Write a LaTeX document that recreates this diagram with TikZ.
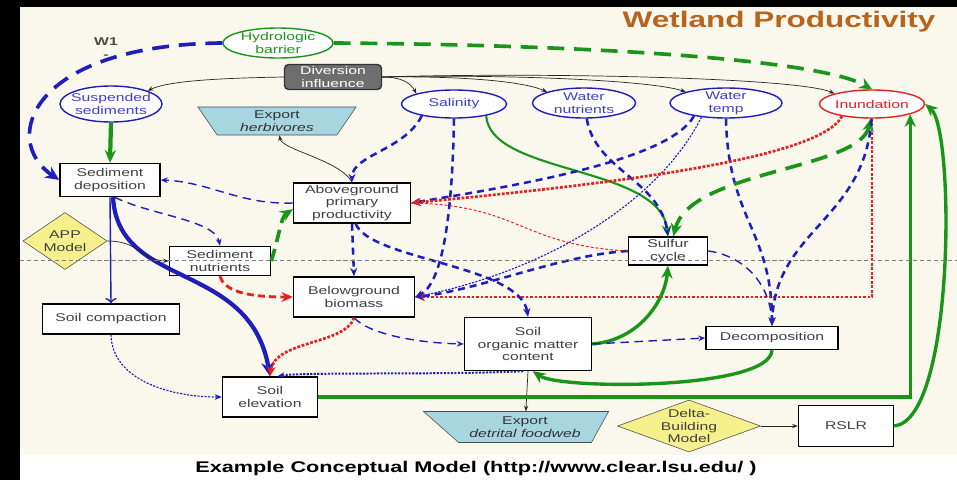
\documentclass[tikz,border=0pt]{standalone}
\usepackage{fontspec}
\setmainfont{Liberation Sans}[FakeStretch=1.4]
\usetikzlibrary{arrows.meta, shapes.geometric}

\definecolor{cream}{RGB}{250,248,236}
\definecolor{dblue}{RGB}{30,30,190}
\definecolor{dgreen}{RGB}{25,150,25}
\definecolor{dred}{RGB}{235,30,30}
\definecolor{trapblue}{RGB}{168,214,224}
\definecolor{ylw}{RGB}{246,240,140}
\definecolor{titlebrown}{RGB}{185,100,30}
\definecolor{divgray}{RGB}{110,110,110}

\begin{document}
\begin{tikzpicture}[x=0.025cm, y=-0.025cm,
    every node/.style={font=\fontsize{8}{9}\selectfont},
    box/.style={draw, line width=1pt, fill=white, text=black!75, align=center, inner sep=1pt},
    oval/.style={ellipse, draw=dblue, line width=1pt, fill=white, text=dblue!85, align=center, inner xsep=-3pt, inner ysep=-1.5pt},
    trap/.style={trapezium, shape border rotate=180, trapezium stretches=true, draw=black!70, fill=trapblue, text=black!80, align=center, inner sep=0pt},
    model/.style={diamond, draw=black!70, fill=ylw, text=black!75, align=center, inner sep=0pt},
    thinline/.style={-{Stealth[length=4pt,width=3pt]}, black!85, line width=0.5pt},
    bdash/.style={-{Stealth[length=6pt,width=5pt]}, dblue, line width=1.8pt, dash pattern=on 5pt off 3.5pt},
    bdashlt/.style={-{Stealth[length=5pt,width=4pt]}, dblue, line width=1pt, dash pattern=on 6pt off 4pt},
    bdashlong/.style={-{Stealth[length=10pt,width=9pt]}, dblue, line width=2.6pt, dash pattern=on 12pt off 7pt},
    bdot/.style={-{Stealth[length=5pt,width=4pt]}, dblue, line width=0.8pt, dash pattern=on 1.5pt off 1pt},
    bthick/.style={-{Stealth[length=10pt,width=9pt]}, dblue, line width=3pt},
    rdot/.style={-{Stealth[length=7pt,width=6pt]}, dred, line width=1.9pt, dash pattern=on 2pt off 1.2pt},
    rdash/.style={-{Stealth[length=8pt,width=7pt]}, dred, line width=2pt, dash pattern=on 5pt off 3pt},
    rthin/.style={dred, line width=0.7pt, dash pattern=on 2pt off 1.5pt},
    gdash/.style={-{Stealth[length=9pt,width=8pt]}, dgreen, line width=2.6pt, dash pattern=on 12pt off 7pt},
    gline/.style={-{Stealth[length=9pt,width=8pt]}, dgreen, line width=2.4pt},
    gmid/.style={-{Stealth[length=8pt,width=7pt]}, dgreen, line width=1.5pt}]

    % Frame and background
    \useasboundingbox (0,0) rectangle (957,480);
    \fill[black] (0,0) rectangle (957,480);
    \fill[white] (20,7) rectangle (957,480);
    \fill[cream] (20,7) rectangle (957,455);

    % Title
    \node[font=\fontsize{16}{18}\selectfont\bfseries, text=titlebrown] (title) at (779,22) {Wetland Productivity};

    % Drivers
    \node[oval, draw=dgreen, text=dgreen, minimum width=2.75cm, minimum height=0.75cm] (hydro) at (278,43) {Hydrologic\\barrier};
    \node[font=\fontsize{8}{9}\selectfont\bfseries, text=black!70, align=center] (w1) at (106,48) {W1\\-};
    \node[draw=black!80, fill=divgray, text=white, rounded corners=3pt, line width=1pt, align=center, minimum width=2.425cm, minimum height=0.625cm, inner sep=1pt] (div) at (333,77) {Diversion\\influence};

    % Water column variables
    \node[oval, minimum width=2.55cm, minimum height=0.9cm] (susp) at (111,104) {Suspended\\sediments};
    \node[oval, minimum width=2.625cm, minimum height=0.7cm] (sal) at (454,104) {Salinity};
    \node[oval, minimum width=2.575cm, minimum height=0.75cm] (wnut) at (584,103) {Water\\nutrients};
    \node[oval, minimum width=2.8cm, minimum height=0.75cm] (wtemp) at (726,103) {Water\\temp};
    \node[oval, draw=dred, text=dred, minimum width=2.625cm, minimum height=0.7cm] (inund) at (872,104) {Inundation};

    % Marsh processes
    \node[trap, minimum width=3.975cm, minimum height=0.7cm] (herb) at (277,121) {Export\\\textit{herbivores}};
    \node[box, minimum width=2.5cm, minimum height=0.825cm] (sdep) at (110,180) {Sediment\\deposition};
    \node[model, aspect=1.47, minimum width=2.1cm, minimum height=1.425cm] (app) at (65,241) {APP\\Model};
    \node[box, minimum width=2.525cm, minimum height=0.725cm] (snut) at (220,261) {Sediment\\nutrients};
    \node[box, minimum width=2.925cm, minimum height=1cm] (agp) at (352,203) {Aboveground\\primary\\productivity};
    \node[box, minimum width=3.025cm, minimum height=1cm] (bgb) at (354,297) {Belowground\\biomass};
    \node[box, minimum width=1.975cm, minimum height=0.7cm] (sulf) at (668,251) {Sulfur\\cycle};
    \node[box, minimum width=3.425cm, minimum height=0.75cm] (scomp) at (111,319) {Soil compaction};
    \node[box, minimum width=3.175cm, minimum height=1.325cm] (som) at (528,344) {Soil\\organic matter\\content};
    \node[box, minimum width=3.3cm, minimum height=0.575cm] (decomp) at (772,338) {Decomposition};
    \node[box, minimum width=2.375cm, minimum height=1cm] (selev) at (270,397) {Soil\\elevation};

    % Export and sea level
    \node[trap, trapezium left angle=55, trapezium right angle=35, minimum width=4.625cm, minimum height=0.775cm] (detr) at (525,427) {Export\\\textit{detrital foodweb}};
    \node[model, aspect=2.75, inner sep=-3pt, minimum width=3.575cm, minimum height=1.3cm] (delta) at (689,426) {Delta-\\Building\\Model};
    \node[box, minimum width=2.375cm, minimum height=1.025cm] (rslr) at (846,426) {RSLR};

    % Hydrologic barrier links
    \draw[bdashlong] (hydro.west) .. controls (30,45) and (0,140) .. (sdep.west);
    \draw[gdash] (hydro.east) .. controls (600,45) and (820,60) .. (inund.north);

    % Diversion influence
    \draw[thinline] (div.west) .. controls (230,78) and (170,80) .. (susp.north east);
    \draw[thinline] (div.east) .. controls (400,77) and (410,82) .. (sal.north west);
    \draw[thinline] (div.east) .. controls (450,76) and (520,80) .. (wnut.north west);
    \draw[thinline] (div.east) .. controls (500,74) and (650,80) .. (wtemp.north west);
    \draw[thinline] (div.east) .. controls (550,72) and (800,78) .. (inund.north west);

    % Sediment pathway
    \draw[gline, line width=3pt] (susp.south) -- (sdep.north);
    \draw[bdashlt] (agp.west) .. controls (240,205) and (210,182) .. (sdep.east);
    \draw[bdashlt] (sdep.-75) .. controls (150,215) and (215,220) .. (snut.north);
    \draw[->, dblue, line width=1pt] (sdep.south) -- (scomp.north);
    \draw[bthick] (sdep.-80) .. controls (118,290) and (250,260) .. (selev.north);
    \draw[thinline] (app.east) .. controls (140,241) and (140,260) .. (snut.west);
    \draw[gdash, dash pattern=on 9pt off 5pt] (snut.east) .. controls +(8,-25) and +(-12,8) .. (agp.186);
    \draw[rdash] (snut.south) .. controls +(5,18) and +(-35,0) .. (bgb.west);

    % Plant productivity
    \draw[thinline] (agp.north) .. controls (340,160) and (282,150) .. (herb);
    \draw[bdash] (sal.-160) .. controls (405,150) and (352,155) .. (agp.north);
    \draw[bdash] (sal.south) .. controls (452,230) and (440,285) .. (bgb.east);
    \draw[gmid] (sal.-20) .. controls (490,175) and (660,165) .. (sulf.north);
    \draw[bdash] (wnut.-80) .. controls (595,170) and (660,180) .. (sulf.north);
    \draw[bdash] (wtemp.-158) .. controls (670,160) and (520,185) .. (agp.east);
    \draw[bdot] (wtemp.-150) .. controls (660,200) and (550,270) .. (bgb.east);
    \draw[bdash] (wtemp.south) .. controls (728,220) and (772,230) .. (decomp.north);

    % Inundation effects
    \draw[rdot] (inund.-158) .. controls (820,160) and (600,185) .. (agp.east);
    \draw[rdot] (inund.south) |- (bgb.east);
    \draw[gdash, {Stealth[length=9pt,width=8pt]}-{Stealth[length=9pt,width=8pt]}] (inund.-95) .. controls (860,170) and (690,170) .. (sulf.70);
    \draw[bdash] (inund.-92) .. controls (865,220) and (775,230) .. (decomp.north);

    % Sulfur cycle
    \draw[bdash] (sulf.west) .. controls (560,255) and (480,290) .. (bgb.east);
    \draw[rthin] (sulf.west) .. controls (520,245) and (520,205) .. (agp.east);
    \draw[bdashlt] (sulf.east) .. controls (740,255) and (770,280) .. (decomp.north);

    % Soil
    \draw[bdash] (agp.south) -- (bgb.north);
    \draw[bdash] (agp.-80) .. controls (370,260) and (520,265) .. (som.north);
    \draw[bdashlt] (bgb.south) .. controls (370,335) and (420,343) .. (som.west);
    \draw[rdot] (bgb.south) .. controls (345,345) and (275,340) .. (selev.north);
    \draw[bdot, line width=1.4pt] (som.-100) .. controls (450,375) and (300,372) .. (selev.70);
    \draw[bdot] (scomp.south) .. controls (112,380) and (170,397) .. (selev.west);
    \draw[gline] (som.east) .. controls (640,340) and (665,300) .. (sulf.south);
    \draw[bdashlt] (som.east) -- (decomp.west);
    \draw[gline] (decomp.south) .. controls (770,390) and (560,390) .. (som.-80);
    \draw[thinline] (som.south) -- (detr);

    % Elevation and sea level
    \draw[gline] (selev.east) -| (inund.-15);
    \draw[thinline] (delta.east) -- (rslr.west);
    \draw[gline] (rslr.east) .. controls (955,420) and (955,130) .. (inund.east);

    % Reference line and caption
    \draw[gray, line width=0.6pt, dash pattern=on 3pt off 2pt] (20,260) -- (957,260);
    \node[font=\fontsize{11}{13}\selectfont\bfseries] (caption) at (476,468) {Example Conceptual Model (http://www.clear.lsu.edu/ )};
\end{tikzpicture}
\end{document}
